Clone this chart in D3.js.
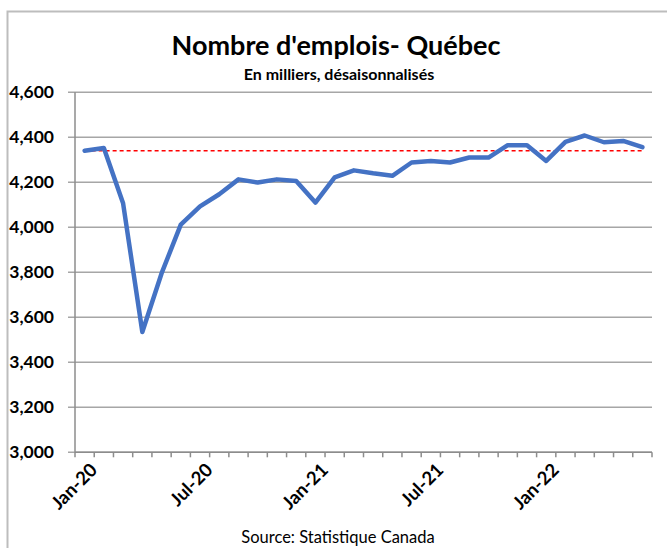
<!DOCTYPE html>
<html lang="fr">
<head>
<meta charset="UTF-8">
<title>Nombre d'emplois- Québec</title>
<style>
  body { margin: 0; background: #fff; }
  svg { display: block; font-family: Lato, "Open Sans", sans-serif; }
  .grid line { stroke: #a6a6a6; stroke-width: 1.5; }
  .axis path, .axis line { stroke: #8c8c8c; stroke-width: 1.5; }
  .axis text { font-weight: bold; fill: #000; }
</style>
</head>
<body>
<div id="chart"></div>
<script src="https://d3js.org/d3.v7.min.js"></script>
<script>
  // mois, de janvier 2020 à juin 2022
  const months = [
    "Jan-20", "Feb-20", "Mar-20", "Apr-20", "May-20", "Jun-20",
    "Jul-20", "Aug-20", "Sep-20", "Oct-20", "Nov-20", "Dec-20",
    "Jan-21", "Feb-21", "Mar-21", "Apr-21", "May-21", "Jun-21",
    "Jul-21", "Aug-21", "Sep-21", "Oct-21", "Nov-21", "Dec-21",
    "Jan-22", "Feb-22", "Mar-22", "Apr-22", "May-22", "Jun-22"
  ];
  // emplois, en milliers
  const jobs = [
    4340, 4352, 4107, 3535, 3795, 4012, 4093, 4147, 4213, 4199,
    4213, 4206, 4110, 4222, 4253, 4240, 4229, 4288, 4295, 4288,
    4310, 4310, 4365, 4365, 4295, 4380, 4408, 4378, 4384, 4356
  ];
  const refLevel = 4340;
  const yTicks = [3000, 3200, 3400, 3600, 3800, 4000, 4200, 4400, 4600];
  const xLabels = ["Jan-20", "Jul-20", "Jan-21", "Jul-21", "Jan-22"];

  const width = 667, height = 548;
  const plotLeft = 75, plotRight = 652, plotTop = 92.3, plotBottom = 452.3;

  const svg = d3.select("#chart").append("svg")
    .attr("width", width)
    .attr("height", height);

  // cadre
  svg.append("rect")
    .attr("x", 7.5).attr("y", 11.5)
    .attr("width", 700).attr("height", 600)
    .attr("fill", "none")
    .attr("stroke", "#bdbdbd")
    .attr("stroke-width", 2);

  const x = d3.scaleBand().domain(months).range([plotLeft, plotRight]);
  const y = d3.scaleLinear().domain([3000, 4600]).range([plotBottom, plotTop]);

  // grille
  svg.append("g").attr("class", "grid")
    .selectAll("line")
    .data(yTicks)
    .join("line")
    .attr("x1", plotLeft - 7).attr("x2", plotRight)
    .attr("y1", d => y(d)).attr("y2", d => y(d));

  // axe y
  svg.append("line")
    .attr("x1", plotLeft).attr("x2", plotLeft)
    .attr("y1", plotTop).attr("y2", plotBottom)
    .attr("stroke", "#8c8c8c").attr("stroke-width", 1.5);

  svg.append("g")
    .selectAll("text")
    .data(yTicks)
    .join("text")
    .attr("x", 54)
    .attr("y", d => y(d))
    .attr("dy", "0.35em")
    .attr("text-anchor", "end")
    .attr("font-weight", "bold")
    .attr("font-size", 17.5)
    .text(d => d3.format(",")(d));

  // axe x
  const xAxis = svg.append("g")
    .attr("class", "axis")
    .attr("transform", `translate(0,${plotBottom})`);

  xAxis.append("line")
    .attr("x1", plotLeft).attr("x2", plotRight)
    .attr("stroke", "#8c8c8c").attr("stroke-width", 1.5);

  xAxis.selectAll(".tick")
    .data(months.concat(["end"]))
    .join("line")
    .attr("class", "tick")
    .attr("x1", (d, i) => i < months.length ? x(d) : plotRight)
    .attr("x2", (d, i) => i < months.length ? x(d) : plotRight)
    .attr("y1", 0).attr("y2", 5);

  xAxis.selectAll("text")
    .data(xLabels)
    .join("text")
    .attr("transform", d => `translate(${x(d) + x.bandwidth() / 2 + 4},${9}) rotate(-45)`)
    .attr("text-anchor", "end")
    .attr("dy", "0.75em")
    .attr("font-size", 18.5)
    .text(d => d);

  // niveau de référence
  svg.append("line")
    .attr("x1", x(months[0]) + x.bandwidth() / 2)
    .attr("x2", x(months[months.length - 1]) + x.bandwidth() / 2)
    .attr("y1", y(refLevel)).attr("y2", y(refLevel))
    .attr("stroke", "#ff0000")
    .attr("stroke-width", 1.5)
    .attr("stroke-dasharray", "4,3");

  // série
  const line = d3.line()
    .x((d, i) => x(months[i]) + x.bandwidth() / 2)
    .y(d => y(d));

  svg.append("path")
    .datum(jobs)
    .attr("d", line)
    .attr("fill", "none")
    .attr("stroke", "#4472c4")
    .attr("stroke-width", 4.5)
    .attr("stroke-linejoin", "round")
    .attr("stroke-linecap", "round");

  // titres
  svg.append("text")
    .attr("x", 336).attr("y", 55)
    .attr("text-anchor", "middle")
    .attr("font-weight", "bold")
    .attr("font-size", 27)
    .text("Nombre d'emplois- Québec");

  svg.append("text")
    .attr("x", 339).attr("y", 80)
    .attr("text-anchor", "middle")
    .attr("font-weight", "bold")
    .attr("font-size", 16)
    .text("En milliers, désaisonnalisés");

  svg.append("text")
    .attr("x", 338).attr("y", 543)
    .attr("text-anchor", "middle")
    .attr("font-size", 16.5)
    .text("Source: Statistique Canada");
</script>
</body>
</html>
